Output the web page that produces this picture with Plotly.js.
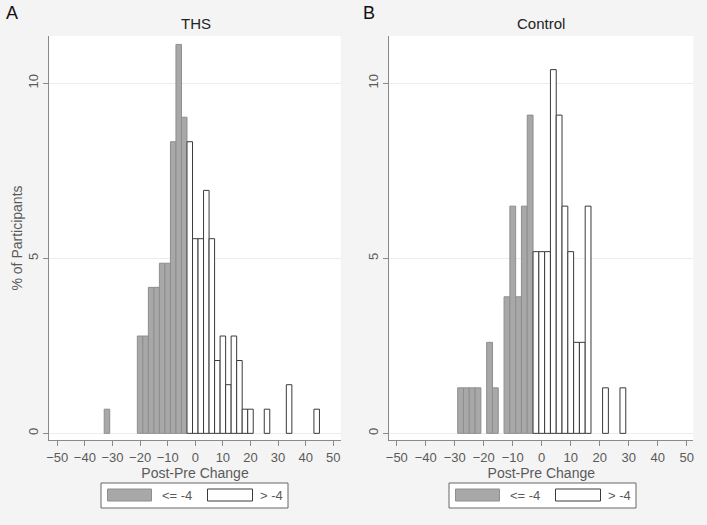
<!DOCTYPE html>
<html>
<head>
<meta charset="utf-8">
<script src="https://cdn.plot.ly/plotly-3.0.1.min.js"></script>
<style>html,body{margin:0;padding:0;background:#f4f4f4;}#chart{width:707px;height:525px;}</style>
</head>
<body>
<div id="chart"></div>
<script>
// Bin centres (bin width 2) and % of participants
var thsLowX   = [-32, -20, -18, -16, -14, -12, -10, -8, -6, -4];
var thsLowY   = [0.69, 2.78, 2.78, 4.17, 4.17, 4.86, 4.86, 8.33, 11.11, 9.03];
var thsHighX  = [-2, 0, 2, 4, 6, 8, 10, 12, 14, 16, 18, 20, 26, 34, 44];
var thsHighY  = [8.33, 5.56, 5.56, 6.94, 5.56, 2.08, 2.78, 1.39, 2.78, 2.08, 0.69, 0.69, 0.69, 1.39, 0.69];

var ctlLowX   = [-28, -26, -24, -22, -18, -16, -12, -10, -8, -6, -4];
var ctlLowY   = [1.30, 1.30, 1.30, 1.30, 2.60, 1.30, 3.90, 6.49, 3.90, 6.49, 9.09];
var ctlHighX  = [-2, 0, 2, 4, 6, 8, 10, 12, 14, 16, 22, 28];
var ctlHighY  = [5.19, 5.19, 5.19, 10.39, 9.09, 6.49, 5.19, 2.60, 2.60, 6.49, 1.30, 1.30];

var groupLabels = ["<= -4", "> -4"];
var panelTitles = ["THS", "Control"];
var panelLetters = ["A", "B"];
var xTicks = [-50, -40, -30, -20, -10, 0, 10, 20, 30, 40, 50];
var yTicks = [0, 5, 10];

var grayFill = "#a8a8a8", grayLine = "#8e8e8e";
var whiteFill = "#ffffff", whiteLine = "#3a3a3a";
var fontFam = "Liberation Sans, Arial, sans-serif";
var textGray = "#5a5a5a";

function barTrace(x, y, name, fill, line, xa, ya) {
  return {
    type: "bar", x: x, y: y, width: 2, name: name,
    marker: {color: fill, line: {color: line, width: 1}},
    xaxis: xa, yaxis: ya, showlegend: false, hoverinfo: "x+y"
  };
}

var data = [
  barTrace(thsLowX, thsLowY, groupLabels[0], grayFill, grayLine, "x", "y"),
  barTrace(thsHighX, thsHighY, groupLabels[1], whiteFill, whiteLine, "x", "y"),
  barTrace(ctlLowX, ctlLowY, groupLabels[0], grayFill, grayLine, "x2", "y2"),
  barTrace(ctlHighX, ctlHighY, groupLabels[1], whiteFill, whiteLine, "x2", "y2")
];

var W = 707, H = 525;
function px(v) { return v / W; }
function py(v) { return 1 - v / H; }

var xAxisBase = {
  tickmode: "array", tickvals: xTicks, ticks: "outside", ticklen: 5, tickcolor: "#8a8a8a",
  showline: true, linecolor: "#8a8a8a", linewidth: 1, showgrid: false, zeroline: false,
  tickfont: {family: fontFam, size: 13, color: textGray},
  title: {text: "Post-Pre Change", font: {family: fontFam, size: 14, color: textGray}, standoff: 0},
  fixedrange: true
};
var yAxisBase = {
  tickmode: "array", tickvals: yTicks, ticks: "outside", ticklen: 5, tickcolor: "#8a8a8a",
  tickangle: -90, range: [-0.19, 11.35],
  showline: true, linecolor: "#8a8a8a", linewidth: 1, showgrid: true, gridcolor: "#ececec",
  zeroline: false, tickfont: {family: fontFam, size: 13, color: textGray}, fixedrange: true
};

// legend boxes drawn in pixel space (left edge of each box)
var legendLeft = [101, 449];
var shapes = [], annotations = [];
legendLeft.forEach(function (L) {
  shapes.push({type: "rect", xref: "paper", yref: "paper", x0: px(L), x1: px(L + 187), y0: py(508), y1: py(483),
    fillcolor: "#ffffff", line: {color: "#666", width: 1}});
  shapes.push({type: "rect", xref: "paper", yref: "paper", x0: px(L + 6.5), x1: px(L + 50.5), y0: py(501), y1: py(489),
    fillcolor: grayFill, line: {color: grayLine, width: 1}});
  shapes.push({type: "rect", xref: "paper", yref: "paper", x0: px(L + 106.5), x1: px(L + 151.5), y0: py(501), y1: py(489),
    fillcolor: whiteFill, line: {color: whiteLine, width: 1}});
  annotations.push({text: groupLabels[0], xref: "paper", yref: "paper", x: px(L + 59), y: py(495.5),
    xanchor: "left", yanchor: "middle", showarrow: false, font: {family: fontFam, size: 13, color: textGray}});
  annotations.push({text: groupLabels[1], xref: "paper", yref: "paper", x: px(L + 157), y: py(495.5),
    xanchor: "left", yanchor: "middle", showarrow: false, font: {family: fontFam, size: 13, color: textGray}});
});

annotations.push(
  {text: panelLetters[0], xref: "paper", yref: "paper", x: px(12), y: py(12.5), xanchor: "center", yanchor: "middle",
    showarrow: false, font: {family: fontFam, size: 18, color: "#111"}},
  {text: panelLetters[1], xref: "paper", yref: "paper", x: px(369), y: py(12.5), xanchor: "center", yanchor: "middle",
    showarrow: false, font: {family: fontFam, size: 18, color: "#111"}},
  {text: panelTitles[0], xref: "paper", yref: "paper", x: px(196), y: py(24), xanchor: "center", yanchor: "middle",
    showarrow: false, font: {family: fontFam, size: 15, color: "#222"}},
  {text: panelTitles[1], xref: "paper", yref: "paper", x: px(541), y: py(24), xanchor: "center", yanchor: "middle",
    showarrow: false, font: {family: fontFam, size: 15, color: "#222"}}
);

var layout = {
  width: W, height: H,
  margin: {l: 0, r: 0, t: 0, b: 0},
  paper_bgcolor: "#f4f4f4", plot_bgcolor: "#ffffff",
  barmode: "overlay", bargap: 0,
  showlegend: false,
  xaxis: Object.assign({}, xAxisBase, {domain: [px(49.3), px(340.7)], range: [-52.9, 52.7], anchor: "y"}),
  yaxis: Object.assign({}, yAxisBase, {domain: [py(440), py(36)], anchor: "x",
    title: {text: "% of Participants", font: {family: fontFam, size: 14, color: textGray}, standoff: 0}}),
  xaxis2: Object.assign({}, xAxisBase, {domain: [px(389.3), px(693.3)], range: [-52.6, 52.3], anchor: "y2"}),
  yaxis2: Object.assign({}, yAxisBase, {domain: [py(440), py(36)], anchor: "x2"}),
  shapes: shapes,
  annotations: annotations
};

Plotly.newPlot("chart", data, layout, {displayModeBar: false, staticPlot: true});
</script>
</body>
</html>
